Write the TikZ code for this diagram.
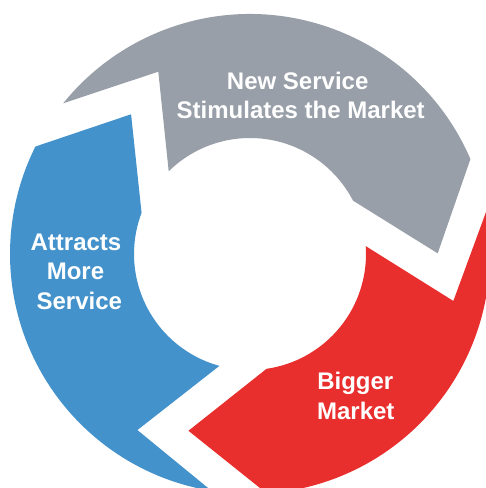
\documentclass[tikz,border=0pt]{standalone}
\usepackage{fontspec}
\setmainfont{Liberation Sans}
\definecolor{segGray}{RGB}{152,159,168}
\definecolor{segRed}{RGB}{233,46,46}
\definecolor{segBlue}{RGB}{67,146,203}
\tikzset{
  lbl/.style={anchor=base, inner sep=0pt, text=white, font=\fontsize{24}{29}\selectfont\bfseries}
}
\begin{document}
\begin{tikzpicture}[x=1pt,y=1pt]
\useasboundingbox (0,0) rectangle (486,488);
\clip (0,0) rectangle (486,488);
\begin{scope}[shift={(250,234)}]
  % gray segment (top)
  \fill[segGray] (141.1:240) -- (116.7:204.1) -- (134.5:116)
    arc[start angle=134.5, end angle=27.4, radius=116]
    -- (0.2:187.7) -- (23.3:240)
    arc[start angle=23.3, end angle=141.1, radius=240] -- cycle;
  % red segment (bottom right)
  \fill[segRed] (10.2:240) -- (-13.0:208.7) -- (3.9:116)
    arc[start angle=3.9, end angle=-81.8, radius=116]
    -- (-109.2:187.2) -- (-86:240)
    arc[start angle=-86, end angle=10.2, radius=240] -- cycle;
  % blue segment (left)
  \fill[segBlue] (-99.2:240) -- (-122.6:209) -- (-105.3:116)
    arc[start angle=-105.3, end angle=-200.8, radius=116]
    -- (130.4:183.5) -- (153.4:240)
    arc[start angle=153.4, end angle=260.8, radius=240] -- cycle;
\end{scope}
\node[lbl] (g1) at (297.7,398) {New Service};
\node[lbl] (g2) at (300.7,369) {Stimulates the Market};
\node[lbl] (b1) at (76,237.3) {Attracts};
\node[lbl] (b2) at (75.5,208.7) {More};
\node[lbl] (b3) at (79.3,178) {Service};
\node[lbl] (r1) at (355.3,98.7) {Bigger};
\node[lbl] (r2) at (355.8,68.7) {Market};
\end{tikzpicture}
\end{document}
